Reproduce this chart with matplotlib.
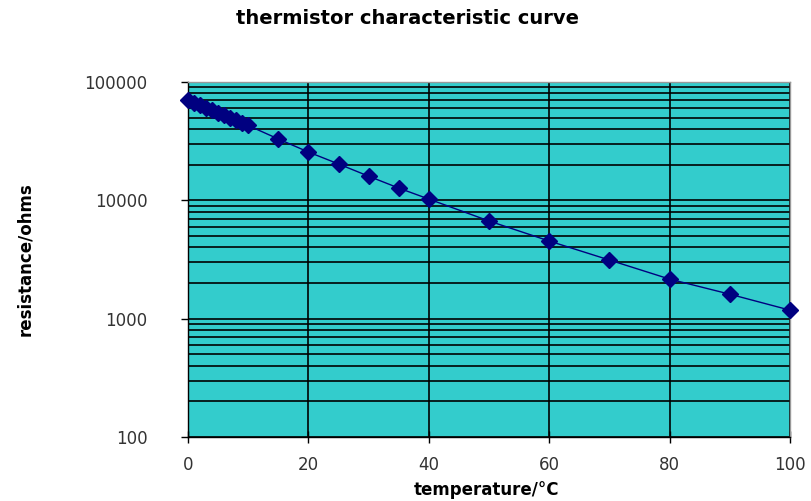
import matplotlib
matplotlib.use("Agg")
import matplotlib.pyplot as plt
from matplotlib.ticker import LogLocator, FixedLocator, NullFormatter

temperature = [0, 1, 2, 3, 4, 5, 6, 7, 8, 9, 10, 15, 20, 25, 30, 35, 40, 50, 60, 70, 80, 90, 100]
resistance = [70500, 67000, 63800, 60700, 57800, 55000, 52400, 49900, 47500, 45200, 42900,
              33000, 25600, 20300, 16000, 12700, 10250, 6690, 4530, 3130, 2160, 1610, 1180]
x_ticks = [0, 20, 40, 60, 80, 100]
y_ticks = [100, 1000, 10000, 100000]
y_tick_labels = ["100", "1000", "10000", "100000"]

fig = plt.figure(figsize=(8.11, 5.01), dpi=100)
ax = fig.add_axes([188/811, 1-437/501, (790-188)/811, (437-82)/501])
ax.set_facecolor("#33CCCC")
ax.set_yscale("log")
ax.set_xlim(0, 100)
ax.set_ylim(100, 100000)

ax.plot(temperature, resistance, color="#000080", lw=1, marker="D", ms=8,
        markerfacecolor="#000080", markeredgecolor="#000080", zorder=3, clip_on=False)

ax.xaxis.set_major_locator(FixedLocator(x_ticks))
ax.yaxis.set_major_locator(FixedLocator(y_ticks))
ax.set_yticklabels(y_tick_labels)
ax.yaxis.set_minor_locator(LogLocator(base=10, subs=range(2, 10), numticks=20))
ax.yaxis.set_minor_formatter(NullFormatter())
ax.grid(True, which="major", axis="both", color="black", lw=1.2)
ax.grid(True, which="minor", axis="y", color="black", lw=1.2)
ax.set_axisbelow(True)

ax.tick_params(axis="y", which="major", direction="out", length=5, width=1,
               labelsize=12, labelcolor="#333333", pad=24)
ax.tick_params(axis="y", which="minor", length=0)
ax.tick_params(axis="x", which="major", direction="inout", length=8, width=1,
               labelsize=12, labelcolor="#333333", pad=10)

for s in ["left", "bottom"]:
    ax.spines[s].set_color("black")
    ax.spines[s].set_linewidth(1)
for s in ["top", "right"]:
    ax.spines[s].set_color("#999999")
    ax.spines[s].set_linewidth(1)

fig.text(407/811, 1-18/501, "thermistor characteristic curve", ha="center", va="center",
         fontsize=14, fontweight="bold")
ax.set_xlabel("temperature/°C", fontsize=12, fontweight="bold")
ax.xaxis.set_label_coords((487-188)/602, -(490-437)/355)
ax.xaxis.label.set_va("center")
ax.set_ylabel("resistance/ohms", fontsize=12, fontweight="bold")
ax.yaxis.set_label_coords((25-188)/602, 0.5)
ax.yaxis.label.set_va("center")

fig.savefig("out.png", dpi=100)
